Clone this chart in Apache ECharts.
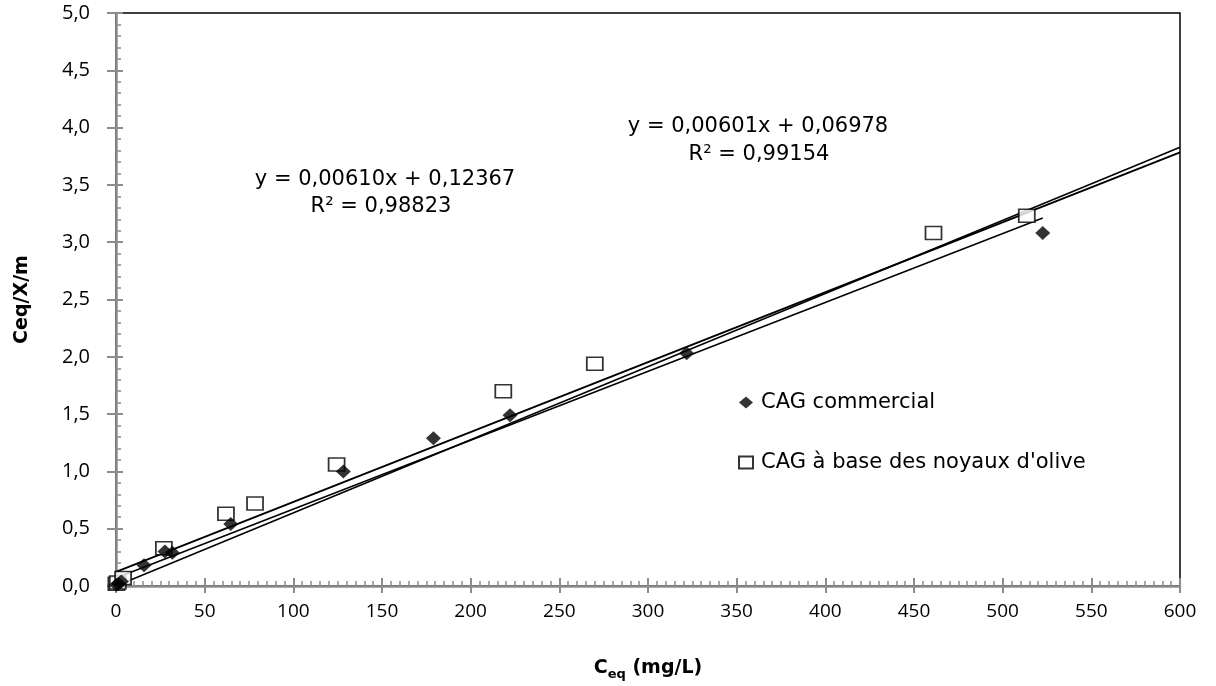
<!DOCTYPE html>
<html>
<head>
<meta charset="utf-8">
<script src="https://cdn.jsdelivr.net/npm/echarts@6/dist/echarts.min.js"></script>
<style>html,body{margin:0;padding:0;background:#fff}#c{width:1216px;height:686px}</style>
</head>
<body>
<div id="c"></div>
<script>
// Data
const commercialX = [0.3, 1.5, 3, 15.8, 27.6, 31.8, 64.7, 128.2, 179, 222.2, 321.8, 522.6];
const commercialY = [0.01, 0.02, 0.04, 0.18, 0.30, 0.29, 0.54, 1.00, 1.29, 1.49, 2.03, 3.08];
const oliveX = [0.2, 1, 4, 27, 62, 78.4, 124.4, 218.4, 270, 461, 513.6];
const oliveY = [0.02, 0.03, 0.07, 0.33, 0.63, 0.72, 1.06, 1.70, 1.94, 3.08, 3.23];
// Trend lines: slope, intercept, x range
const trendSlopes = [0.00610, 0.00638, 0.00601];
const trendIntercepts = [0.12367, 0.0, 0.06978];
const trendXEnd = [600, 600, 522.6];
const xTicks = [0, 50, 100, 150, 200, 250, 300, 350, 400, 450, 500, 550, 600];
const yTicks = [0, 0.5, 1, 1.5, 2, 2.5, 3, 3.5, 4, 4.5, 5];
const seriesNames = ['CAG commercial', "CAG à base des noyaux d'olive"];
const eq1 = ['y = 0,00610x + 0,12367', 'R² = 0,98823'];
const eq2 = ['y = 0,00601x + 0,06978', 'R² = 0,99154'];

const FONT = '"Open Sans"';
const WIDE = '"DejaVu Sans"';
const chart = echarts.init(document.getElementById('c'), null, {renderer: 'canvas'});
const zip = (a, b) => a.map((v, i) => [v, b[i]]);
const trendSeries = trendSlopes.map((m, i) => ({
  type: 'line', silent: true, symbol: 'none', z: 3,
  lineStyle: {color: '#000', width: i === 0 ? 2 : 1.5},
  data: [[0, trendIntercepts[i]], [trendXEnd[i], trendIntercepts[i] + m * trendXEnd[i]]]
}));
const axisGray = '#8c8c8c';
const fmtY = v => v.toFixed(1).replace('.', ',');
const eqText = (s, x, y) => ({type: 'text', x: x, y: y, z: 10,
  style: {text: s, font: '21px ' + WIDE, fill: '#000', align: 'center', verticalAlign: 'middle'}});

chart.setOption({
  animation: false,
  backgroundColor: '#fff',
  grid: {left: 116, right: 36, top: 13, bottom: 100, show: true, borderColor: '#000', borderWidth: 1.5},
  legend: {
    orient: 'vertical', left: 733, top: 387, itemGap: 39,
    itemWidth: 14, itemHeight: 12,
    textStyle: {fontFamily: WIDE, fontSize: 21, color: '#000', padding: [0, 0, 0, 3]},
    data: seriesNames
  },
  xAxis: [{
    type: 'value', min: xTicks[0], max: xTicks[xTicks.length - 1], interval: 50, position: 'bottom',
    axisLine: {lineStyle: {color: axisGray, width: 2.5}},
    axisTick: {inside: true, length: 8, lineStyle: {color: axisGray, width: 2}},
    minorTick: {show: true, splitNumber: 10, length: 5, lineStyle: {color: axisGray, width: 1.5}},
    splitLine: {show: false},
    axisLabel: {fontFamily: FONT, fontSize: 19, color: '#000', margin: 16},
    name: '{c|C}{s|eq}{c| (mg/L)}', nameLocation: 'middle', nameGap: 70,
    nameTextStyle: {rich: {c: {fontFamily: WIDE, fontSize: 19, fontWeight: 'bold', color: '#000'},
      s: {fontFamily: WIDE, fontSize: 13, fontWeight: 'bold', color: '#000', verticalAlign: 'bottom', padding: [12, 0, 0, 0]}}}
  }, {
    type: 'value', min: xTicks[0], max: xTicks[xTicks.length - 1], interval: 50, position: 'bottom',
    axisLine: {show: false}, axisLabel: {show: false}, splitLine: {show: false},
    axisTick: {inside: false, length: 7, lineStyle: {color: axisGray, width: 2}}
  }],
  yAxis: [{
    type: 'value', min: yTicks[0], max: yTicks[yTicks.length - 1], interval: 0.5, position: 'left',
    axisLine: {show: true, lineStyle: {color: axisGray, width: 2.5}},
    axisTick: {show: true, inside: true, length: 7, lineStyle: {color: axisGray, width: 2}},
    minorTick: {show: true, splitNumber: 5, length: 5, lineStyle: {color: axisGray, width: 1.5}},
    splitLine: {show: false},
    axisLabel: {fontFamily: FONT, fontSize: 20, color: '#000', margin: 26, formatter: fmtY},
    name: 'Ceq/X/m', nameLocation: 'middle', nameGap: 84, nameRotate: 90,
    nameTextStyle: {fontFamily: WIDE, fontSize: 19, fontWeight: 'bold', color: '#000'}
  }, {
    type: 'value', min: yTicks[0], max: yTicks[yTicks.length - 1], interval: 0.5, position: 'left',
    axisLine: {show: false}, axisLabel: {show: false}, splitLine: {show: false},
    axisTick: {show: true, inside: false, length: 9, lineStyle: {color: axisGray, width: 2}}
  }],
  graphic: [
    eqText(eq1[0], 385, 180), eqText(eq1[1], 381, 207),
    eqText(eq2[0], 758, 127), eqText(eq2[1], 759, 155)
  ],
  series: [
    {name: seriesNames[0], type: 'scatter', symbol: 'diamond', symbolSize: [15, 14], z: 5,
      itemStyle: {color: '#000'}, data: zip(commercialX, commercialY)},
    {name: seriesNames[1], type: 'scatter', symbol: 'rect', symbolSize: [16, 13], z: 4,
      itemStyle: {color: '#fff', borderColor: '#000', borderWidth: 1.6}, data: zip(oliveX, oliveY)}
  ].concat(trendSeries)
});
</script>
</body>
</html>
